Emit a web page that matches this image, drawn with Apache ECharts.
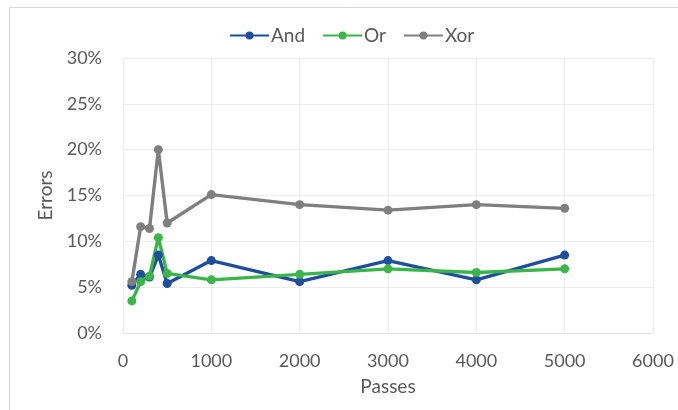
<!DOCTYPE html>
<html>
<head>
<meta charset="utf-8">
<script src="https://cdn.jsdelivr.net/npm/echarts@6/dist/echarts.min.js"></script>
<style>
  html, body { margin: 0; padding: 0; background: #fff; }
  #chart { width: 678px; height: 410px; }
</style>
</head>
<body>
<div id="chart"></div>
<script>
// Training passes and error rates (%) per logic gate
const passes = [100, 200, 300, 400, 500, 1000, 2000, 3000, 4000, 5000];
const andErrors = [5.2, 6.4, 6.1, 8.5, 5.4, 7.9, 5.6, 7.9, 5.8, 8.5];
const orErrors  = [3.5, 5.6, 6.2, 10.4, 6.5, 5.8, 6.4, 7.0, 6.6, 7.0];
const xorErrors = [5.6, 11.6, 11.4, 20.0, 12.0, 15.1, 14.0, 13.4, 14.0, 13.6];

const FONT = 'Lato, "Open Sans", sans-serif';
const TEXT = '#595959';

function pairs(ys) {
  return passes.map((x, i) => [x, ys[i]]);
}

function lineSeries(name, ys, color) {
  return {
    name: name,
    type: 'line',
    data: pairs(ys),
    symbol: 'circle',
    symbolSize: 9,
    lineStyle: { width: 3.4, color: color },
    itemStyle: { color: color },
    emphasis: { disabled: true },
    animation: false
  };
}

const chart = echarts.init(document.getElementById('chart'), null, { renderer: 'canvas' });
chart.setOption({
  backgroundColor: '#fff',
  textStyle: { fontFamily: FONT },
  graphic: [{
    type: 'rect',
    shape: { x: 9.5, y: 7.5, width: 720, height: 440 },
    style: { fill: 'none', stroke: '#d9d9d9', lineWidth: 1 },
    silent: true
  }],
  legend: {
    top: 26,
    left: 229,
    padding: 0,
    itemWidth: 39,
    itemHeight: 10,
    itemGap: 17,
    textStyle: { color: TEXT, fontSize: 19, fontFamily: FONT, padding: [0, 0, 0, -3] },
    data: ['And', 'Or', 'Xor']
  },
  grid: { left: 123, right: 25, top: 58, bottom: 77, containLabel: false },
  xAxis: {
    type: 'value',
    min: 0, max: 6000, interval: 1000,
    name: 'Passes',
    nameLocation: 'middle',
    nameGap: 44,
    nameTextStyle: { color: TEXT, fontSize: 19, fontFamily: FONT },
    axisLine: { show: true, lineStyle: { color: '#e3e3e3', width: 1 } },
    axisTick: { show: false },
    axisLabel: { color: TEXT, fontSize: 18, margin: 19, fontFamily: FONT, formatter: (v) => String(v) },
    splitLine: { show: true, lineStyle: { color: '#ececec', width: 1 } }
  },
  yAxis: {
    type: 'value',
    min: 0, max: 30, interval: 5,
    name: 'Errors',
    nameLocation: 'middle',
    nameGap: 68,
    nameTextStyle: { color: TEXT, fontSize: 19, fontFamily: FONT },
    axisLine: { show: false },
    axisTick: { show: false },
    axisLabel: { color: TEXT, fontSize: 18, margin: 21, fontFamily: FONT, formatter: '{value}%' },
    splitLine: { show: true, lineStyle: { color: '#ececec', width: 1 } }
  },
  series: [
    lineSeries('And', andErrors, '#1f4e9c'),
    lineSeries('Or', orErrors, '#3bb54a'),
    lineSeries('Xor', xorErrors, '#7f7f7f')
  ]
});
</script>
</body>
</html>
